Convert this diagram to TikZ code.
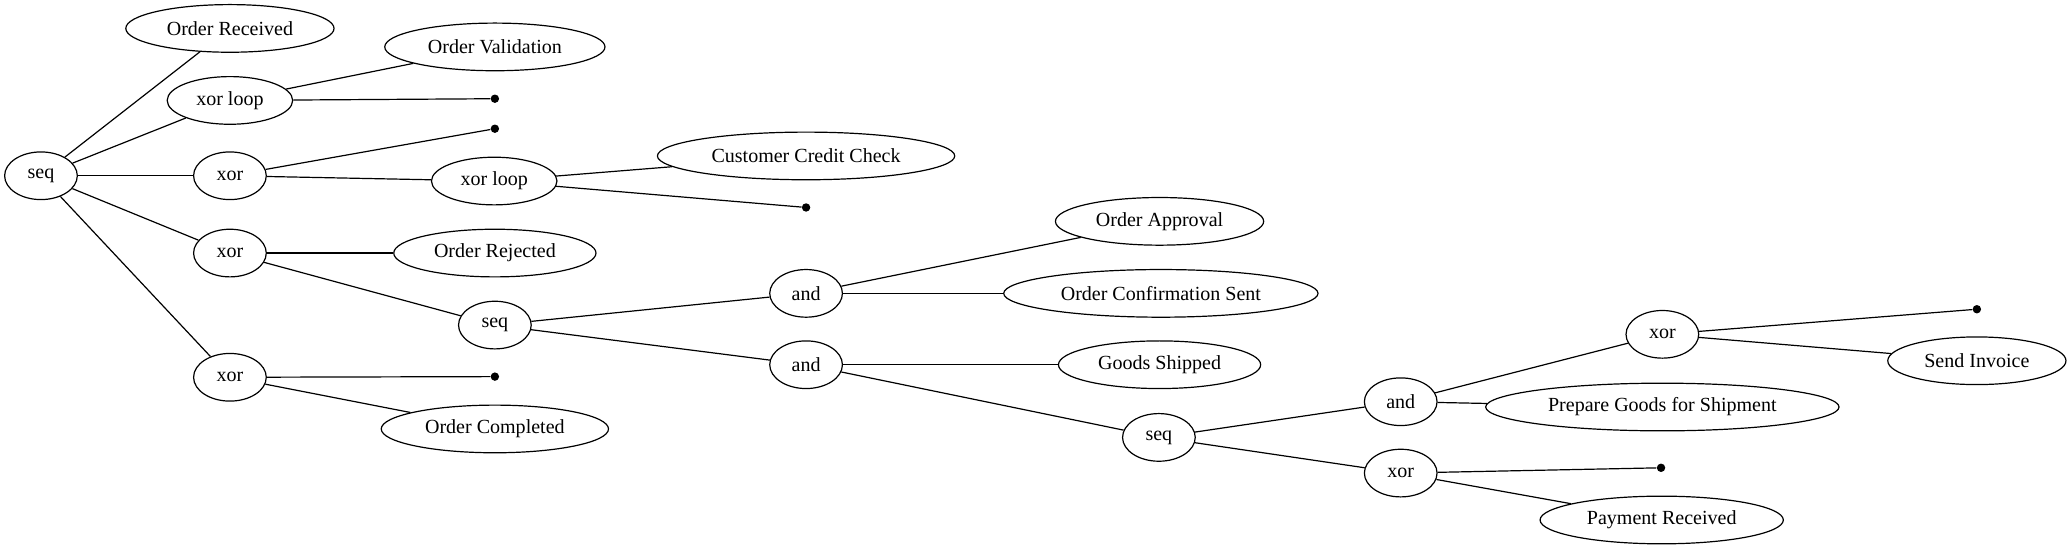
\documentclass[tikz,border=0pt]{standalone}
\usepackage{fontspec}
\setmainfont{Liberation Serif}
\usetikzlibrary{shapes.geometric}
\begin{document}
\begin{tikzpicture}[x=0.66pt,y=-0.66pt,
  el/.style={draw,ellipse,line width=0.6pt,inner sep=0pt,minimum height=23.8pt,font=\fontsize{10}{12}\selectfont},
  sm/.style={el,minimum width=36.3pt},
  lp/.style={el,minimum width=62.7pt},
  dot/.style={circle,fill=black,inner sep=0pt,minimum size=4.2pt},
  edge/.style={line width=0.6pt}]
\useasboundingbox (0,0) rectangle (1568,415);
% operator nodes
\node[sm] (seq1) at (31,133) {seq};
\node[lp] (xl1) at (174,76) {xor loop};
\node[sm] (x1) at (174,133) {xor};
\node[lp] (xl2) at (374,137) {xor loop};
\node[sm] (x2) at (174,191.5) {xor};
\node[sm] (seq2) at (374.5,246) {seq};
\node[sm] (a1) at (610,222) {and};
\node[sm] (a2) at (610,276) {and};
\node[sm] (x3) at (174,285.5) {xor};
\node[sm] (seq3) at (877,331) {seq};
\node[sm] (a3) at (1060,304) {and};
\node[sm] (x4) at (1258,253) {xor};
\node[sm] (x5) at (1060,358) {xor};
% leaves
\node[el,minimum width=104pt] (or) at (174,21.5) {Order Received};
\node[el,minimum width=110pt] (ov) at (374.5,35.5) {Order Validation};
\node[el,minimum width=148.5pt] (ccc) at (610,118) {Customer Credit Check};
\node[el,minimum width=101pt] (orj) at (374.5,191.5) {Order Rejected};
\node[el,minimum width=113.5pt] (oc) at (374.5,324.6) {Order Completed};
\node[el,minimum width=104pt] (oa) at (877.5,167.5) {Order Approval};
\node[el,minimum width=157pt] (ocs) at (878.5,222) {Order Confirmation Sent};
\node[el,minimum width=101pt] (gs) at (877.5,276) {Goods Shipped};
\node[el,minimum width=176.5pt] (pg) at (1258,308) {Prepare Goods for Shipment};
\node[el,minimum width=89pt] (si) at (1496,273) {Send Invoice};
\node[el,minimum width=121.5pt] (pr) at (1257.5,393.5) {Payment Received};
% dots
\node[dot] (d1) at (374.5,74.7) {};
\node[dot] (d2) at (374.5,97.4) {};
\node[dot] (d3) at (610,157) {};
\node[dot] (d4) at (374.5,285) {};
\node[dot] (d5) at (1496,234) {};
\node[dot] (d6) at (1257,354) {};
% edges
\draw[edge] (seq1) -- (or);
\draw[edge] (seq1) -- (xl1);
\draw[edge] (seq1) -- (x1);
\draw[edge] (seq1) -- (x2);
\draw[edge] (seq1) -- (x3);
\draw[edge] (xl1) -- (ov);
\draw[edge] (xl1) -- (d1);
\draw[edge] (x1) -- (d2);
\draw[edge] (x1) -- (xl2);
\draw[edge] (xl2) -- (ccc);
\draw[edge] (xl2) -- (d3);
\draw[edge] (x2) -- (orj);
\draw[edge] (x2) -- (seq2);
\draw[edge] (seq2) -- (a1);
\draw[edge] (seq2) -- (a2);
\draw[edge] (a1) -- (oa);
\draw[edge] (a1) -- (ocs);
\draw[edge] (a2) -- (gs);
\draw[edge] (a2) -- (seq3);
\draw[edge] (seq3) -- (a3);
\draw[edge] (seq3) -- (x5);
\draw[edge] (a3) -- (x4);
\draw[edge] (a3) -- (pg);
\draw[edge] (x4) -- (d5);
\draw[edge] (x4) -- (si);
\draw[edge] (x5) -- (d6);
\draw[edge] (x5) -- (pr);
\draw[edge] (x3) -- (d4);
\draw[edge] (x3) -- (oc);
\end{tikzpicture}
\end{document}
